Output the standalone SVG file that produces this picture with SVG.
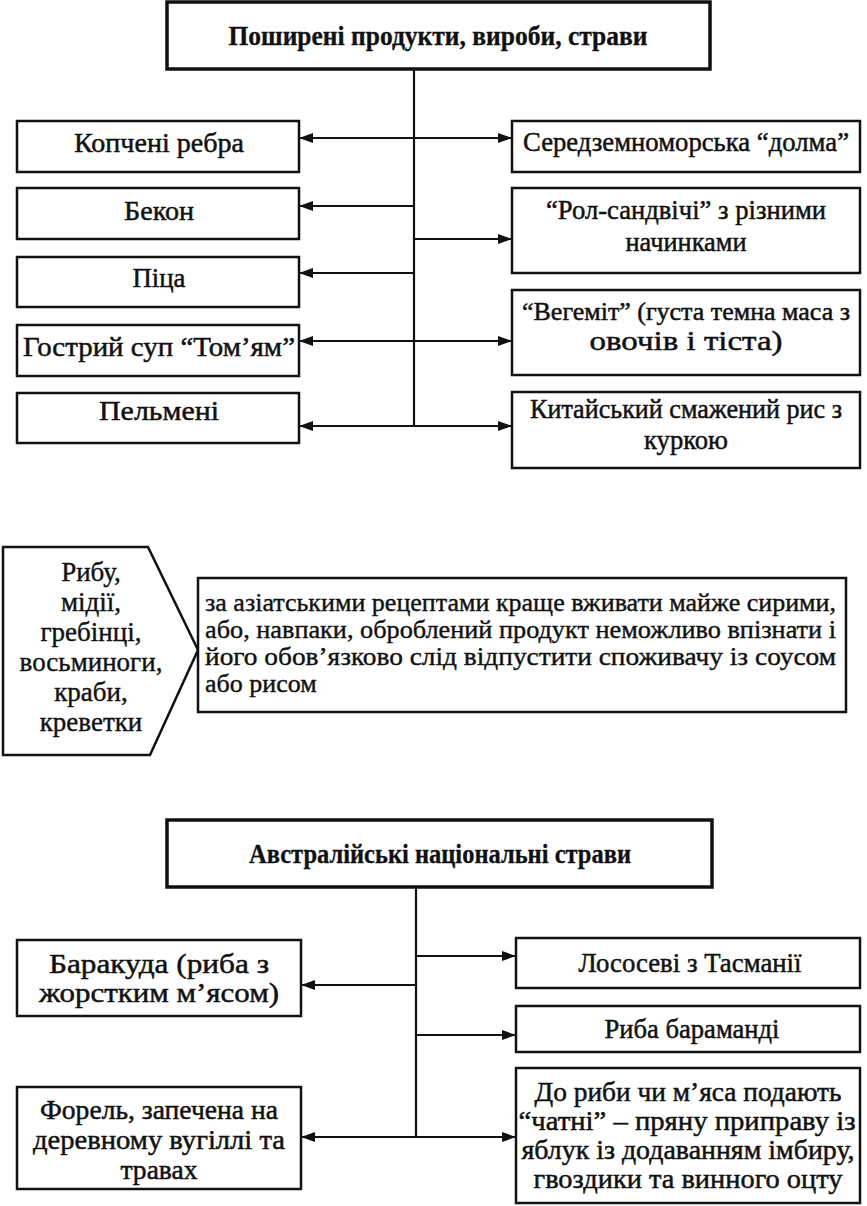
<svg xmlns="http://www.w3.org/2000/svg" width="867" height="1206" viewBox="0 0 867 1206">
<defs>
<style>
.box{fill:#fff;stroke:#111;stroke-width:2.5}
.tbox{fill:#fff;stroke:#111;stroke-width:3.5}
.t{font-family:"Liberation Serif","Times New Roman","DejaVu Serif",serif;font-size:28px;fill:#111;stroke:#111;stroke-width:0.5;text-anchor:middle}
.tn{font-size:25px}
.ts{font-family:"Liberation Serif","Times New Roman","DejaVu Serif",serif;font-size:27px;fill:#111;stroke:#111;stroke-width:0.4;text-anchor:middle}
.tb{font-family:"Liberation Serif","Times New Roman","DejaVu Serif",serif;font-size:28px;font-weight:bold;fill:#111;stroke:#111;stroke-width:0.3;text-anchor:middle}
.tj{font-family:"Liberation Serif","Times New Roman","DejaVu Serif",serif;font-size:26px;fill:#111;stroke:#111;stroke-width:0.4}
.c{fill:none;stroke:#111;stroke-width:2.2}
</style>
<marker id="ah" viewBox="0 0 14 10" refX="14" refY="5" markerWidth="14" markerHeight="10" markerUnits="userSpaceOnUse" orient="auto-start-reverse">
<path d="M0,0 L14,5 L0,10 z" fill="#111"/>
</marker>
</defs>
<rect width="867" height="1206" fill="#fff"/>

<g id="connectors">
<path class="c" d="M414,69 V426"/>
<path class="c" d="M299,138 H512" marker-start="url(#ah)" marker-end="url(#ah)"/>
<path class="c" d="M414,206 H299" marker-end="url(#ah)"/>
<path class="c" d="M414,239 H512" marker-end="url(#ah)"/>
<path class="c" d="M414,273 H299" marker-end="url(#ah)"/>
<path class="c" d="M299,341 H512" marker-start="url(#ah)" marker-end="url(#ah)"/>
<path class="c" d="M299,426 H512" marker-start="url(#ah)" marker-end="url(#ah)"/>
<path class="c" d="M416,887 V1137"/>
<path class="c" d="M416,956 H516" marker-end="url(#ah)"/>
<path class="c" d="M416,985 H301" marker-end="url(#ah)"/>
<path class="c" d="M416,1035 H516" marker-end="url(#ah)"/>
<path class="c" d="M301,1137 H516" marker-start="url(#ah)" marker-end="url(#ah)"/>
</g>

<g id="title1">
<rect class="tbox" x="167" y="2" width="543" height="67"/>
<text class="tb" x="438" y="45" textLength="419" lengthAdjust="spacingAndGlyphs">Поширені продукти, вироби, страви</text>
</g>

<g id="kopcheni">
<rect class="box" x="17" y="121" width="282" height="51"/>
<text class="t" x="159" y="152" textLength="170" lengthAdjust="spacingAndGlyphs">Копчені ребра</text>
</g>
<g id="bekon">
<rect class="box" x="17" y="188" width="282" height="51"/>
<text class="t" x="159" y="220" textLength="70" lengthAdjust="spacingAndGlyphs">Бекон</text>
</g>
<g id="pitsa">
<rect class="box" x="17" y="257" width="282" height="50"/>
<text class="t" x="159" y="287" textLength="53" lengthAdjust="spacingAndGlyphs">Піца</text>
</g>
<g id="tomyam">
<rect class="box" x="17" y="325" width="282" height="51"/>
<text class="t" x="159" y="356" textLength="272" lengthAdjust="spacingAndGlyphs">Гострий суп “Том’ям”</text>
</g>
<g id="pelmeni">
<rect class="box" x="17" y="393" width="282" height="50"/>
<text class="t" x="159" y="420" textLength="120" lengthAdjust="spacingAndGlyphs">Пельмені</text>
</g>

<g id="dolma">
<rect class="box" x="512" y="121" width="348" height="51"/>
<text class="t" x="686" y="151" textLength="326" lengthAdjust="spacingAndGlyphs">Середземноморська “долма”</text>
</g>
<g id="rol">
<rect class="box" x="512" y="188" width="348" height="85"/>
<text class="t" x="686" y="219" textLength="280" lengthAdjust="spacingAndGlyphs">“Рол-сандвічі” з різними</text>
<text class="t" x="686" y="251" textLength="121" lengthAdjust="spacingAndGlyphs">начинками</text>
</g>
<g id="vegemit">
<rect class="box" x="512" y="290" width="348" height="85"/>
<text class="t tn" x="686" y="320" textLength="328" lengthAdjust="spacingAndGlyphs">“Вегеміт” (густа темна маса з</text>
<text class="t" x="686" y="350" textLength="193" lengthAdjust="spacingAndGlyphs">овочів і тіста)</text>
</g>
<g id="rys">
<rect class="box" x="512" y="392" width="348" height="76"/>
<text class="t" x="686" y="418" textLength="312" lengthAdjust="spacingAndGlyphs">Китайський смажений рис з</text>
<text class="t" x="686" y="449" textLength="84" lengthAdjust="spacingAndGlyphs">куркою</text>
</g>

<g id="seafood">
<polygon class="box" points="3,547 148,547 198,650 150,755 3,755"/>
<text class="ts" x="91" y="581">Рибу,</text>
<text class="ts" x="91" y="611">мідії,</text>
<text class="ts" x="91" y="641">гребінці,</text>
<text class="ts" x="91" y="671">восьминоги,</text>
<text class="ts" x="91" y="701">краби,</text>
<text class="ts" x="91" y="731">креветки</text>
</g>
<g id="asian">
<rect class="box" x="198" y="578" width="648" height="134"/>
<text class="tj" x="205" y="611" textLength="631" lengthAdjust="spacingAndGlyphs">за азіатськими рецептами краще вживати майже сирими,</text>
<text class="tj" x="205" y="638" textLength="631" lengthAdjust="spacingAndGlyphs">або, навпаки, оброблений продукт неможливо впізнати і</text>
<text class="tj" x="205" y="665" textLength="631" lengthAdjust="spacingAndGlyphs">його обов’язково слід відпустити споживачу із соусом</text>
<text class="tj" x="205" y="692">або рисом</text>
</g>

<g id="title2">
<rect class="tbox" x="167" y="820" width="545" height="67"/>
<text class="tb" x="440" y="863" textLength="382" lengthAdjust="spacingAndGlyphs">Австралійські національні страви</text>
</g>

<g id="barakuda">
<rect class="box" x="17" y="940" width="284" height="76"/>
<text class="t" x="159" y="973" textLength="220" lengthAdjust="spacingAndGlyphs">Баракуда (риба з</text>
<text class="t" x="159" y="1002" textLength="240" lengthAdjust="spacingAndGlyphs">жорстким м’ясом)</text>
</g>
<g id="forel">
<rect class="box" x="17" y="1087" width="284" height="102"/>
<text class="t" x="159" y="1119" textLength="238" lengthAdjust="spacingAndGlyphs">Форель, запечена на</text>
<text class="t" x="159" y="1149" textLength="252" lengthAdjust="spacingAndGlyphs">деревному вугіллі та</text>
<text class="t" x="159" y="1179" textLength="77" lengthAdjust="spacingAndGlyphs">травах</text>
</g>
<g id="losos">
<rect class="box" x="516" y="938" width="344" height="50"/>
<text class="t" x="690" y="972" textLength="223" lengthAdjust="spacingAndGlyphs">Лососеві з Тасманії</text>
</g>
<g id="barramundi">
<rect class="box" x="516" y="1006" width="344" height="46"/>
<text class="t" x="692" y="1038" textLength="175" lengthAdjust="spacingAndGlyphs">Риба бараманді</text>
</g>
<g id="chatni">
<rect class="box" x="516" y="1068" width="344" height="135"/>
<text class="t" x="688" y="1101" textLength="307" lengthAdjust="spacingAndGlyphs">До риби чи м’яса подають</text>
<text class="t" x="687" y="1130" textLength="337" lengthAdjust="spacingAndGlyphs">“чатні” – пряну приправу із</text>
<text class="t" x="688" y="1159" textLength="333" lengthAdjust="spacingAndGlyphs">яблук із додаванням імбиру,</text>
<text class="t" x="688" y="1188" textLength="309" lengthAdjust="spacingAndGlyphs">гвоздики та винного оцту</text>
</g>
</svg>
